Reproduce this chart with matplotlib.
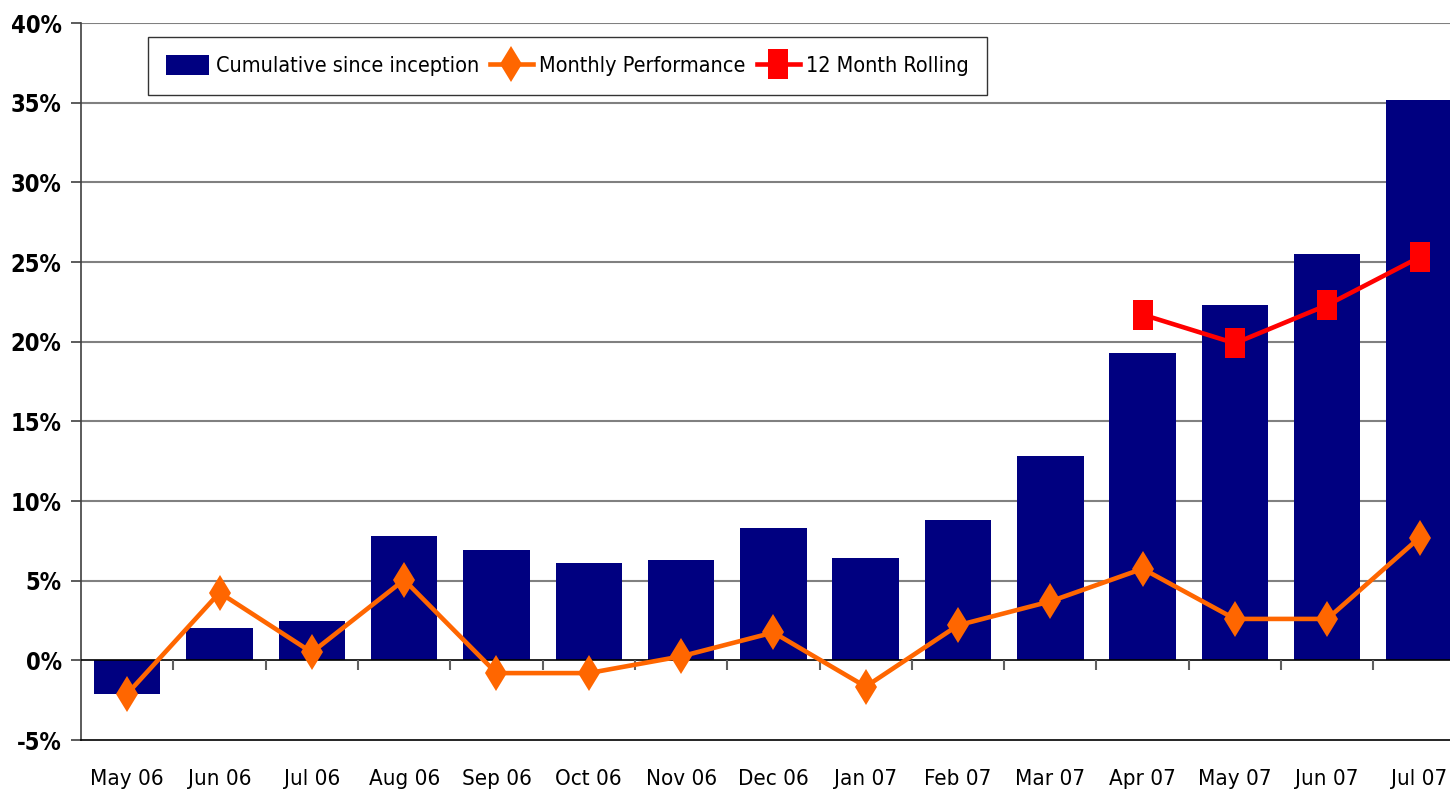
import matplotlib.pyplot as plt
import numpy as np
from matplotlib.ticker import FuncFormatter

months = ["May 06", "Jun 06", "Jul 06", "Aug 06", "Sep 06", "Oct 06", "Nov 06",
          "Dec 06", "Jan 07", "Feb 07", "Mar 07", "Apr 07", "May 07", "Jun 07", "Jul 07"]
cumulative = [-2.1, 2.0, 2.5, 7.8, 6.9, 6.1, 6.3, 8.3, 6.4, 8.8, 12.8, 19.3, 22.3, 25.5, 35.2]
monthly = [-2.1, 4.25, 0.5, 5.05, -0.8, -0.8, 0.25, 1.75, -1.65, 2.2, 3.7, 5.75, 2.6, 2.6, 7.7]
rolling = [np.nan] * 11 + [21.7, 19.9, 22.3, 25.3]

NAVY = "#000080"
ORANGE = "#FF6600"
RED = "#FF0000"

# condensed face stands in for the narrow font of the original
plt.rcParams["font.family"] = ["DejaVu Sans"]
plt.rcParams["font.stretch"] = "condensed"

fig = plt.figure(figsize=(14.5, 7.97), dpi=100)
ax = fig.add_axes([0.0559, 0.0715, 0.9441, 0.8996])

x = np.arange(len(months))
bars = ax.bar(x, cumulative, width=0.72, color=NAVY, zorder=2,
              label="Cumulative since inception")

(mline,) = ax.plot(x, monthly, color=ORANGE, lw=3.3, marker="d", markersize=18,
                   markeredgewidth=0, zorder=4, label="Monthly Performance")

rect = [(-0.33, -0.5), (0.33, -0.5), (0.33, 0.5), (-0.33, 0.5), (-0.33, -0.5)]
(rline,) = ax.plot(x, rolling, color=RED, lw=3.3, marker=rect, markersize=21,
                   markeredgewidth=0, zorder=5, label="12 Month Rolling")

ax.set_ylim(-5, 40)
ax.set_xlim(-0.5, 14.33)
ax.set_yticks(np.arange(-5, 41, 5))
ax.yaxis.set_major_formatter(FuncFormatter(lambda v, p: f"{v:.0f}%"))
for y in np.arange(5, 41, 5):
    ax.axhline(y, color="#808080", lw=1.5, zorder=1)
ax.axhline(0, color="black", lw=1.2, zorder=3)

# category separators hanging below the zero line
ax.vlines(x[:-1] + 0.5, -0.6, 0, color="#606060", lw=1.5, zorder=3)

ax.set_xticks(x)
ax.set_xticklabels(months, fontsize=16)
ax.tick_params(axis="x", length=0, pad=21)
ax.tick_params(axis="y", length=7, width=1.2, color="#404040", pad=7)
for lbl in ax.get_yticklabels():
    lbl.set_fontsize(17)
    lbl.set_fontweight("bold")

for side in ["top", "right"]:
    ax.spines[side].set_visible(False)
ax.spines["left"].set_color("#404040")
ax.spines["left"].set_linewidth(1.2)
ax.spines["bottom"].set_color("black")
ax.spines["bottom"].set_linewidth(1.2)

leg = ax.legend(handles=[bars, mline, rline], loc="upper left",
                bbox_to_anchor=(0.049, 0.9805), borderaxespad=0, ncol=3,
                fontsize=15.5, frameon=True, fancybox=False, handlelength=2.0,
                handleheight=1.0, handletextpad=0.3, columnspacing=0.5,
                borderpad=0.85)
leg.get_frame().set_edgecolor("black")
leg.get_frame().set_linewidth(1.0)

fig.savefig("out.png", dpi=100)
